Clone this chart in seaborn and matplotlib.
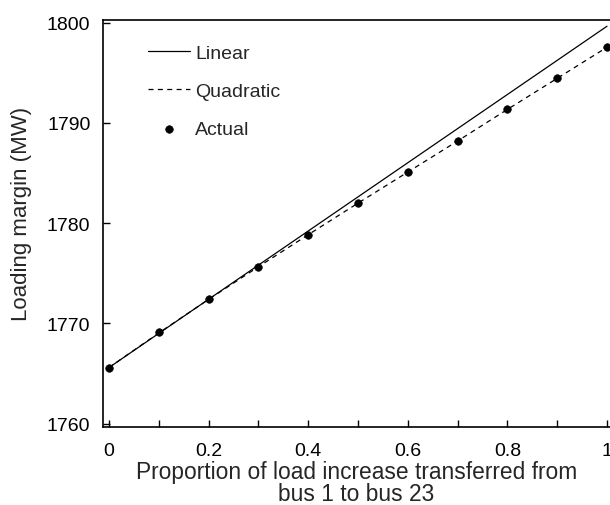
import numpy as np
import pandas as pd
import matplotlib
matplotlib.use("Agg")
import matplotlib.pyplot as plt
import seaborn as sns

# Datos
proporcion = [0.0, 0.1, 0.2, 0.3, 0.4, 0.5, 0.6, 0.7, 0.8, 0.9, 1.0]
margen_real = [1765.6, 1769.1, 1772.4, 1775.65, 1778.8, 1782.0,
               1785.1, 1788.2, 1791.4, 1794.5, 1797.6]
margen_cuadratico = [1765.6, 1769.05, 1772.4, 1775.65, 1778.85, 1782.0,
                     1785.1, 1788.2, 1791.35, 1794.45, 1797.55]
x_lineal = [0.0, 1.0]
margen_lineal = [1765.6, 1799.65]

x_ticks = [0, 0.2, 0.4, 0.6, 0.8, 1]
x_tick_labels = ["0", "0.2", "0.4", "0.6", "0.8", "1"]
y_ticks = [1760, 1770, 1780, 1790, 1800]

sns.set_theme(style="ticks")
plt.rcParams['font.family'] = ['Liberation Sans', 'DejaVu Sans']

fig = plt.figure(figsize=(6.1, 5.06), dpi=100)
ax = fig.add_axes([103 / 610, 1 - 427.7 / 506, 507 / 610, 407 / 506])

df_real = pd.DataFrame({"x": proporcion, "y": margen_real})
df_cuad = pd.DataFrame({"x": proporcion, "y": margen_cuadratico})
df_lin = pd.DataFrame({"x": x_lineal, "y": margen_lineal})

sns.lineplot(data=df_lin, x="x", y="y", ax=ax, color="black", lw=0.9,
             label="Linear")
sns.lineplot(data=df_cuad, x="x", y="y", ax=ax, color="black", lw=0.9,
             dashes=False, label="Quadratic")
ax.lines[-1].set_dashes((4, 3.5))
sns.scatterplot(data=df_real, x="x", y="y", ax=ax, color="black",
                edgecolor="black", s=30, zorder=3, label="Actual")

ax.set_xlim(-0.012, 1.006)
ax.set_ylim(1759.7, 1800.3)
ax.set_xticks(x_ticks)
ax.set_xticklabels(x_tick_labels)
ax.set_xticks(np.arange(0.1, 1.0, 0.2), minor=True)
ax.set_yticks(y_ticks)
ax.tick_params(axis="both", which="both", direction="in", length=5,
               width=1, labelsize=14, colors="black")
ax.tick_params(axis="x", pad=11)
ax.tick_params(axis="y", pad=9)

ax.spines["right"].set_visible(False)
for s in ["left", "bottom", "top"]:
    ax.spines[s].set_linewidth(1.2)
    ax.spines[s].set_color("black")

ax.set_xlabel("Proportion of load increase transferred from\nbus 1 to bus 23",
              fontsize=16.4, labelpad=0.5, linespacing=0.98)
ax.set_ylabel("Loading margin (MW)", fontsize=16)
ax.yaxis.set_label_coords(-0.14, 0.526)

handles, labels = ax.get_legend_handles_labels()
leg = ax.legend(handles, labels, loc="upper left",
                bbox_to_anchor=(0.088, 0.94), frameon=False, fontsize=14,
                borderaxespad=0, borderpad=0, labelspacing=1.05,
                handlelength=2.2, handletextpad=0.25)

fig.savefig("out.png", dpi=100)
